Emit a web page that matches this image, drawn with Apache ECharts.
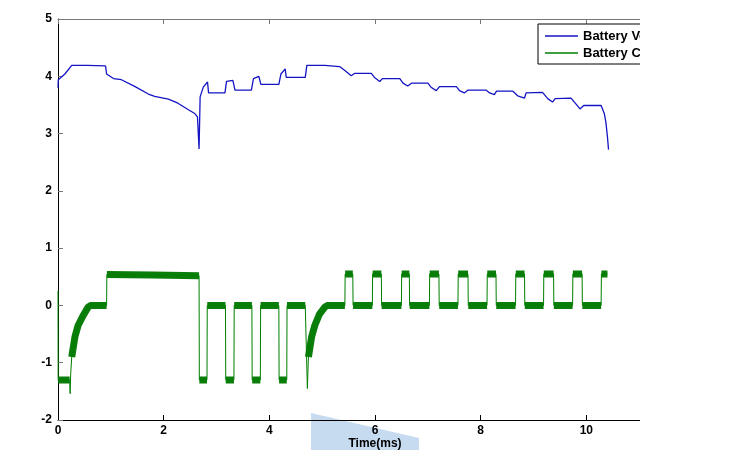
<!DOCTYPE html>
<html><head><meta charset="utf-8">
<script src="https://cdn.jsdelivr.net/npm/echarts@6/dist/echarts.min.js"></script>
<style>html,body{margin:0;padding:0;background:#fff}#c{width:740px;height:450px}</style>
</head><body><div id="c"></div>
<script>
// Battery voltage [time ms, volts]
const voltagePoints = [
  [0,3.80],[0.006,3.94],[0.13,4.04],[0.26,4.19],[0.55,4.19],[0.90,4.18],[0.92,4.04],[1.05,3.96],[1.20,3.94],
  [1.46,3.82],[1.71,3.69],[1.83,3.65],[2.09,3.60],[2.27,3.53],[2.46,3.42],[2.59,3.35],[2.64,3.29],[2.67,2.73],
  [2.69,3.64],[2.75,3.81],[2.83,3.90],[2.85,3.71],[3.16,3.71],[3.19,3.91],[3.31,3.93],[3.35,3.76],[3.66,3.76],
  [3.70,3.96],[3.80,4.00],[3.84,3.86],[4.18,3.86],[4.22,4.04],[4.30,4.13],[4.32,3.98],[4.68,3.98],[4.71,4.19],
  [5.05,4.19],[5.33,4.17],[5.43,4.10],[5.55,4.01],[5.61,4.05],[5.93,4.05],[5.99,3.98],[6.09,3.91],[6.14,3.96],
  [6.47,3.96],[6.53,3.88],[6.62,3.83],[6.69,3.88],[7.00,3.88],[7.06,3.81],[7.16,3.75],[7.22,3.82],[7.54,3.82],
  [7.60,3.75],[7.69,3.71],[7.76,3.76],[8.10,3.76],[8.17,3.71],[8.26,3.68],[8.30,3.74],[8.61,3.74],[8.70,3.66],
  [8.83,3.62],[8.86,3.71],[9.17,3.72],[9.27,3.61],[9.36,3.55],[9.41,3.61],[9.71,3.62],[9.81,3.51],[9.88,3.43],
  [9.95,3.49],[10.28,3.49],[10.34,3.35],[10.37,3.20],[10.40,2.94],[10.42,2.72]
];
// Battery current [time ms, amps]
const currentPoints = [
  [0,0.25],[0.003,-1.30],[0.22,-1.30],[0.23,-1.54],[0.24,-1.20],[0.26,-0.90],[0.32,-0.55],[0.38,-0.35],
  [0.48,-0.17],[0.57,-0.03],[0.62,0.00],[0.92,0.00],[0.925,0.54],[1.8,0.53],[2.67,0.52],
  [2.675,-1.30],[2.82,-1.30],[2.825,0.00],[3.17,0.00],[3.175,-1.30],[3.33,-1.30],[3.335,0.00],[3.67,0.00],
  [3.675,-1.30],[3.83,-1.30],[3.835,0.00],[4.18,0.00],[4.185,-1.30],[4.33,-1.30],[4.335,0.00],[4.68,0.00],
  [4.72,-1.45],[4.74,-0.90],[4.80,-0.55],[4.86,-0.35],[4.95,-0.15],[5.05,-0.03],[5.10,0.00],[5.43,0.00],
  [5.435,0.55],[5.58,0.55],[5.585,0.00],[5.95,0.00],[5.955,0.55],[6.12,0.55],[6.125,0.00],
  [6.50,0.00],[6.505,0.55],[6.65,0.55],[6.655,0.00],[7.03,0.00],[7.035,0.55],[7.21,0.55],[7.215,0.00],
  [7.57,0.00],[7.575,0.55],[7.76,0.55],[7.765,0.00],[8.12,0.00],[8.125,0.55],[8.29,0.55],[8.295,0.00],
  [8.66,0.00],[8.665,0.55],[8.83,0.55],[8.835,0.00],[9.19,0.00],[9.195,0.55],[9.38,0.55],[9.385,0.00],
  [9.74,0.00],[9.745,0.55],[9.92,0.55],[9.925,0.00],[10.28,0.00],[10.285,0.55],[10.40,0.55]
];
const xTicks = [0,2,4,6,8,10,12];
const yTicks = [-2,-1,0,1,2,3,4,5];
const seriesNames = ['Battery Voltage','Battery Current'];

// noise band: same current data split into runs at steep transitions (edges stay thin)
const runs = [];
let run = [currentPoints[0]];
for (let i = 1; i < currentPoints.length; i++) {
  const p = currentPoints[i-1], q = currentPoints[i];
  if (Math.abs(q[1]-p[1]) > 0.2 && (q[0]-p[0]) < 0.05) { runs.push(run); run = [q]; }
  else run.push(q);
}
runs.push(run);
const bandPoints = [];
runs.filter(r => r.length > 1).forEach((r, k) => {
  if (k > 0) bandPoints.push([r[0][0], null]);
  r.forEach(pt => bandPoints.push(pt));
});

const font = {fontFamily:'Liberation Sans, Arial, sans-serif', fontWeight:'bold', fontSize:12, color:'#000'};
const chart = echarts.init(document.getElementById('c'), null, {renderer:'canvas'});
chart.setOption({
  animation:false,
  backgroundColor:'#fff',
  grid:{left:58, right:48, top:19, bottom:30, containLabel:false, outerBoundsMode:'none'},
  legend:{
    data:seriesNames, orient:'vertical', left:538, top:24,
    backgroundColor:'#fff', borderColor:'#000', borderWidth:1, borderRadius:0,
    padding:[5,7,4,7], itemWidth:33, itemHeight:1.5, itemGap:3, icon:'rect',
    textStyle:{fontFamily:font.fontFamily, fontWeight:'bold', fontSize:13, color:'#000', lineHeight:14},
    selectedMode:false
  },
  xAxis:[{
    type:'value', min:xTicks[0], max:xTicks[xTicks.length-1], interval:2,
    name:'Time(ms)', nameLocation:'middle', nameGap:18, nameMoveOverlap:false,
    nameTextStyle:Object.assign({}, font),
    axisLine:{show:true, onZero:false, lineStyle:{color:'#000', width:1}},
    axisTick:{show:true, inside:true, length:5, lineStyle:{color:'#000'}},
    axisLabel:Object.assign({margin:5}, font),
    splitLine:{show:false}
  },{
    type:'value', position:'top', min:xTicks[0], max:xTicks[xTicks.length-1], interval:2,
    axisLine:{show:true, onZero:false, lineStyle:{color:'#777', width:1}},
    axisTick:{show:true, inside:true, length:5, lineStyle:{color:'#777'}},
    axisLabel:{show:false}, splitLine:{show:false}
  }],
  yAxis:{
    type:'value', min:yTicks[0], max:yTicks[yTicks.length-1], interval:1,
    axisLine:{show:true, onZero:false, lineStyle:{color:'#000', width:1}},
    axisTick:{show:true, inside:true, length:5, lineStyle:{color:'#777'}},
    axisLabel:Object.assign({margin:6}, font),
    splitLine:{show:false}
  },
  series:[
    {name:seriesNames[1]+' band', type:'line', data:bandPoints, showSymbol:false, symbol:'none',
     connectNulls:false, lineStyle:{color:'#0a7d0a', width:7, cap:'butt', join:'bevel'},
     itemStyle:{color:'#0a7d0a'}, silent:true, z:2},
    {name:seriesNames[1], type:'line', data:currentPoints, showSymbol:false, symbol:'none',
     lineStyle:{color:'#007f00', width:1}, itemStyle:{color:'#007f00'}, z:3},
    {name:seriesNames[0], type:'line', data:voltagePoints, showSymbol:false, symbol:'none',
     lineStyle:{color:'#1414c4', width:1.3}, itemStyle:{color:'#1414c4'}, z:4}
  ],
  graphic:[
    {type:'polygon', z:-10, shape:{points:[[311,413],[419,438],[419,450],[311,450]]},
     style:{fill:'#c6dbef'}},
    {type:'rect', z:100, shape:{x:640, y:0, width:100, height:450}, style:{fill:'#fff'}}
  ]
});
</script></body></html>
